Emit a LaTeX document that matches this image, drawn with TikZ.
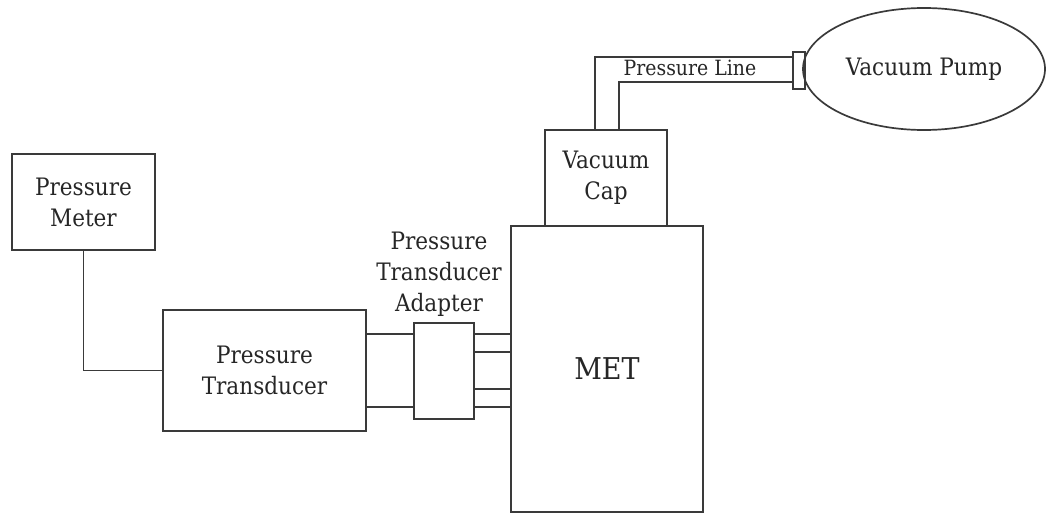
\documentclass[tikz,border=0pt]{standalone}
\usepackage{fontspec}
\setmainfont{DejaVu Serif Condensed}
\usetikzlibrary{shapes.geometric}
\definecolor{linec}{HTML}{3a3a3a}
\definecolor{textc}{HTML}{262626}
\begin{document}
\begin{tikzpicture}[x=1pt,y=-1pt,
  box/.style={draw=linec, line width=1.7pt, rectangle, inner sep=0pt, align=center,
    text=textc, font=\fontsize{24}{31}\selectfont},
  part/.style={draw=linec, line width=1.7pt, rectangle, inner sep=0pt},
  wire/.style={draw=linec, line width=1.7pt},
  lbl/.style={inner sep=0pt, align=center, text=textc, font=\fontsize{24}{31}\selectfont}]
\useasboundingbox (0,0) rectangle (1047,514);
% boxes
\node[box, minimum width=143pt, minimum height=96pt] (meter) at (83.5,202) {Pressure\\Meter};
\node[box, minimum width=203pt, minimum height=121pt] (trans) at (264.5,370.5) {Pressure\\Transducer};
\node[part, minimum width=48pt, minimum height=73pt] (coupler) at (390,370.5) {};
\node[part, minimum width=60pt, minimum height=96pt] (adapter) at (444,371) {};
\node[part, minimum width=37pt, minimum height=18pt] (portA) at (492.5,343) {};
\node[part, minimum width=37pt, minimum height=18pt] (portB) at (492.5,398) {};
\node[box, minimum width=192pt, minimum height=286pt, font=\fontsize{30}{36}\selectfont] (met) at (607,369) {MET};
\node[box, minimum width=122pt, minimum height=96pt] (cap) at (606,178) {Vacuum\\Cap};
\node[box, ellipse, minimum width=242pt, minimum height=122pt] (pump) at (924,69) {Vacuum Pump};
\node[part, minimum width=12pt, minimum height=37pt] (plug) at (799,70.5) {};
% labels
\node[lbl] (adlabel) at (439,274) {Pressure\\Transducer\\Adapter};
\node[lbl, font=\fontsize{21}{25}\selectfont] (linelabel) at (690,68) {Pressure Line};
% connectors
\draw[wire] (meter.south) |- (trans.west);
\draw[wire] ([xshift=-11pt]cap.north) |- ([yshift=13.5pt]plug.west);
\draw[wire] ([xshift=13pt]cap.north) |- ([yshift=-11.5pt]plug.west);
\end{tikzpicture}
\end{document}
